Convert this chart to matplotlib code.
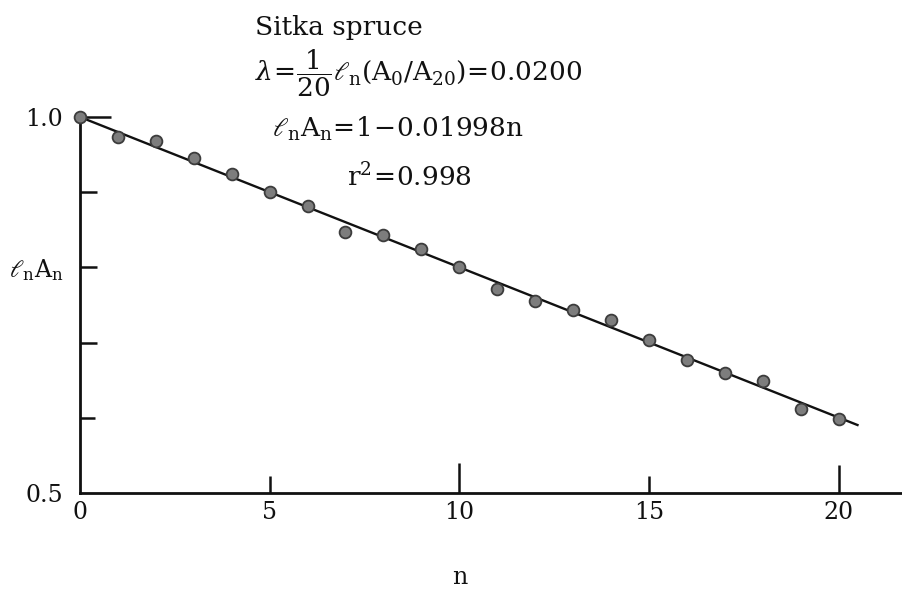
import numpy as np
import matplotlib
matplotlib.use("Agg")
import matplotlib.pyplot as plt

# Observed ln A_n against cycle number n
n_values = list(range(21))
ln_a = [1.000, 0.974, 0.968, 0.946, 0.924, 0.900, 0.881, 0.847, 0.843, 0.824,
        0.801, 0.771, 0.755, 0.744, 0.730, 0.703, 0.677, 0.660, 0.649, 0.612, 0.599]

# Fitted line  ln A_n = 1 - 0.01998 n
fit_intercept = 1.0
fit_slope = -0.01998
fit_n_range = [0.0, 20.5]

x_ticks = [0, 5, 10, 15, 20]
x_tick_labels = ["0", "5", "10", "15", "20"]
y_ticks = [0.5, 0.6, 0.7, 0.8, 0.9, 1.0]
y_tick_labels = ["0.5", "", "", r"$\ell_{\rm n}{\rm A_n}$", "", "1.0"]

plt.rcParams["font.family"] = ["DejaVu Serif"]
plt.rcParams["mathtext.fontset"] = "dejavuserif"

W, H = 903, 596
fig = plt.figure(figsize=(W / 100, H / 100), dpi=100)
ax = fig.add_axes([80 / W, 103 / H, 823 / W, 376 / H])
ax.set_xlim(0, 21.7)
ax.set_ylim(0.5, 1.0)

for side in ("top", "right"):
    ax.spines[side].set_visible(False)
for side in ("left", "bottom"):
    ax.spines[side].set_linewidth(2.0)
    ax.spines[side].set_color("#111111")

fit_x = np.array(fit_n_range)
ax.plot(fit_x, fit_intercept + fit_slope * fit_x, color="#111111", lw=1.7,
        clip_on=False, zorder=2)
ax.scatter(n_values, ln_a, s=72, facecolor="#7d7d7d", edgecolor="#3c3c3c",
           linewidths=1.3, zorder=3, clip_on=False)

ax.set_xticks(x_ticks)
ax.set_xticklabels(x_tick_labels)
ax.set_yticks(y_ticks)
ax.set_yticklabels(y_tick_labels)
ax.tick_params(direction="in", width=1.8, color="#111111", labelsize=17,
               labelcolor="#111111")
ax.tick_params(axis="x", pad=6)
ax.tick_params(axis="y", pad=12)

# individual tick lengths (points)
for tick, length in zip(ax.xaxis.get_major_ticks(), [0, 12, 21.5, 12, 20]):
    tick.tick1line.set_markersize(length)
for tick, length in zip(ax.yaxis.get_major_ticks(), [0, 10.5, 12.5, 12, 12, 22]):
    tick.tick1line.set_markersize(length)

ax.set_xlabel("n", fontsize=17, color="#111111")
ax.xaxis.set_label_coords(10 / 21.7, -0.226)
ax.xaxis.label.set_verticalalignment("center")

txt = dict(fontsize=19, color="#111111", va="center", ha="left")
fig.text(255 / W, 1 - 27 / H, "Sitka spruce", **txt)
fig.text(255 / W, 1 - 73 / H,
         r"$\lambda\!=\!\dfrac{1}{20}\ell_{\rm n}({\rm A_0/A_{20}})\!=\!0.0200$", **txt)
fig.text(272 / W, 1 - 129 / H, r"$\ell_{\rm n}{\rm A_n}\!=\!1\!-\!0.01998{\rm n}$", **txt)
fig.text(347 / W, 1 - 177 / H, r"${\rm r^2}\!=\!0.998$", **txt)

fig.savefig("out.png", dpi=100, facecolor="white")
